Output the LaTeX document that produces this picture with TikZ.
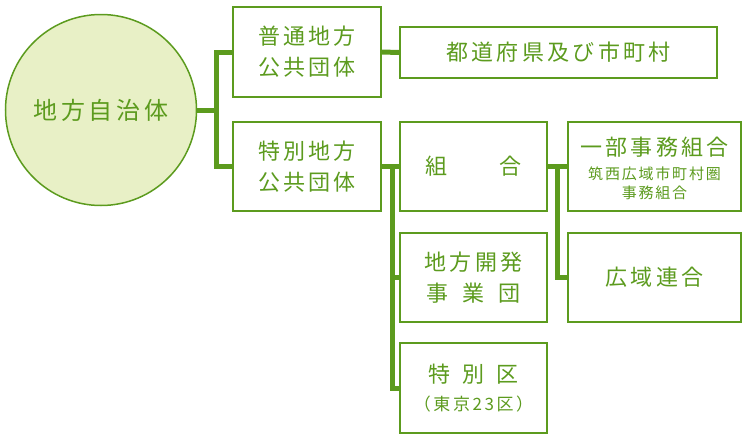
\documentclass[tikz,border=0pt]{standalone}
\usepackage{fontspec}
\setmainfont{Noto Sans CJK JP}[LetterSpace=15]
\newfontfamily\smallcjk{Noto Sans CJK JP}[LetterSpace=12]
\newcommand{\subfont}{\smallcjk\fontsize{15}{18}\selectfont}
\definecolor{gline}{HTML}{5C9B1E}
\definecolor{gfill}{HTML}{E8F0C6}
\definecolor{gtext}{HTML}{5C9B1E}
\tikzset{
  box/.style={draw=gline, line width=2pt, fill=white, rectangle, inner sep=0pt, align=center, text=gtext, font=\fontsize{22}{31}\selectfont},
  conn/.style={draw=gline, line width=5pt, line join=miter},
}
\begin{document}
\begin{tikzpicture}[x=1pt,y=-1pt]
\useasboundingbox (0,0) rectangle (750,442);
\node[draw=gline, line width=1.5pt, fill=gfill, circle, minimum size=191pt, inner sep=0pt, text=gtext, font=\fontsize{24}{28}\selectfont] (circ) at (101,110) {地方自治体};
\node[box, minimum width=148pt, minimum height=90pt] (a) at (307,52) {普通地方\\公共団体};
\node[box, minimum width=148pt, minimum height=89pt] (b) at (307,166.5) {特別地方\\公共団体};
\node[box, minimum width=317pt, minimum height=51pt] (c) at (558.5,52.5) {都道府県及び市町村};
\node[box, minimum width=147pt, minimum height=89pt] (d) at (473.5,166.5) {組\hspace{52pt}合};
\node[box, minimum width=147pt, minimum height=89pt] (e) at (473.5,277.5) {地方開発\\事\hspace{14pt}業\hspace{14pt}団};
\node[box, minimum width=147pt, minimum height=90pt] (f) at (473.5,388) {特\hspace{12pt}別\hspace{12pt}区\\[-3pt]\fontsize{17}{20}\selectfont （東京23区）};
\node[box, minimum width=173pt, minimum height=89pt] (g) at (654.5,166.5) {\rule{0pt}{22pt}一部事務組合\\[-7pt]\subfont 筑西広域市町村圏\\[-12.5pt]\subfont 事務組合};
\node[box, minimum width=173pt, minimum height=89pt] (h) at (654.5,277.5) {広域連合};
\coordinate (j1) at (216,110);
\coordinate (j2) at (392,166.5);
\coordinate (j3) at (557,166.5);
\draw[conn] (circ.east) -- (j1);
\draw[conn] (a.west) -| (j1) |- (b.west);
\draw[conn] (a.east) -- (c.west);
\draw[conn] (b.east) -- (d.west);
\draw[conn] (j2) |- (e.west);
\draw[conn] (j2) |- (f.west);
\draw[conn] (d.east) -- (g.west);
\draw[conn] (j3) |- (h.west);
\end{tikzpicture}
\end{document}
